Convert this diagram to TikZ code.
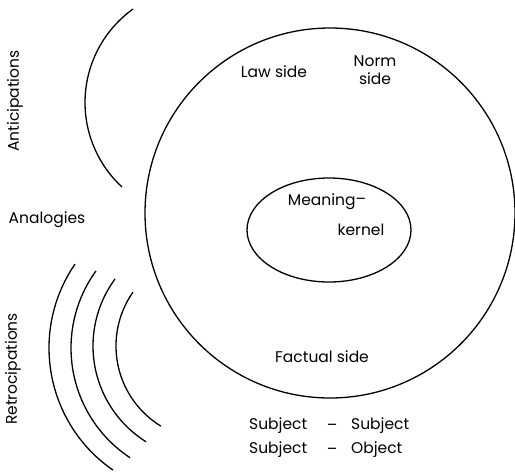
\documentclass[tikz,border=0pt]{standalone}
\usepackage{fontspec}
\setmainfont{Poppins}
\begin{document}
\begin{tikzpicture}[x=1pt,y=-1pt,
  curve/.style={line width=1.3pt,black},
  lbl/.style={font=\fontsize{15.5}{18}\selectfont,inner sep=0pt,align=center},
  vlbl/.style={lbl,rotate=90}]
\useasboundingbox (0,0) rectangle (515,472);
% modal sphere and its meaning-kernel
\draw[curve] (330,213) circle [radius=185];
\draw[curve] (329,230) ellipse [x radius=82, y radius=52];
% anticipating arc
\draw[curve] (200,102.5) ++(-125.6:115) arc[start angle=-125.6, end angle=-227.3, radius=115];
% retrocipating arcs
\draw[curve] (197.5,348) ++(-145.6:148.5) arc[start angle=-145.6, end angle=-235.3, radius=148.5];
\draw[curve] (202.5,348) ++(-144.1:131.5) arc[start angle=-144.1, end angle=-236.6, radius=131.5];
\draw[curve] (206,346) ++(-143.6:113) arc[start angle=-143.6, end angle=-238, radius=113];
\draw[curve] (210,346) ++(-145:94) arc[start angle=-145, end angle=-238.5, radius=94];
% labels
\node[vlbl] (antic) at (15,101) {Anticipations};
\node[lbl] (analog) at (47,220) {Analogies};
\node[vlbl] (retro) at (13,369) {Retrocipations};
\node[lbl] (law) at (274,72) {Law side};
\node[lbl] (norm) at (375,70) {Norm\\side};
\node[lbl] (mean) at (327,202) {Meaning\raisebox{1pt}{–}};
\node[lbl] (kern) at (361,230) {kernel};
\node[lbl] (fact) at (322,357) {Factual side};
\node[lbl,anchor=west] (s1) at (249,426) {Subject};
\node[lbl] (d1) at (332,427) {–};
\node[lbl,anchor=west] (s2) at (351,426) {Subject};
\node[lbl,anchor=west] (s3) at (249,450) {Subject};
\node[lbl] (d2) at (332,451) {–};
\node[lbl,anchor=west] (o1) at (351,450) {Object};
\end{tikzpicture}
\end{document}
